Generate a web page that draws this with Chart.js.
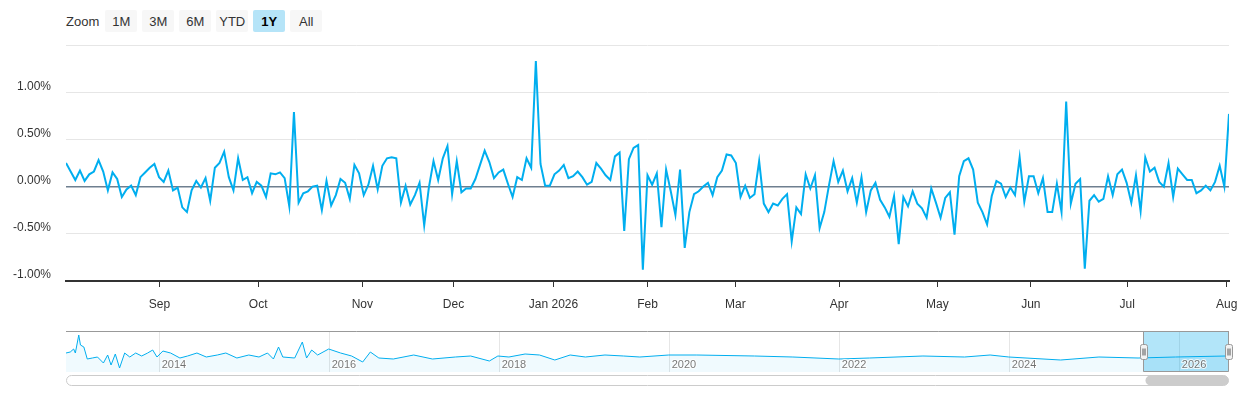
<!DOCTYPE html>
<html>
<head>
<meta charset="utf-8">
<title>Daily change</title>
<script src="https://cdn.jsdelivr.net/npm/chart.js@4.4.1/dist/chart.umd.min.js"></script>
<style>
  html, body { margin: 0; padding: 0; background: #fff; }
  body { width: 1240px; height: 400px; position: relative; overflow: hidden;
         font-family: "Liberation Sans", Arial, sans-serif; }
  .range { position: absolute; left: 66px; top: 10px; height: 22px; display: flex;
           align-items: center; font-size: 13px; color: #333; }
  .range .lbl { margin-right: 6px; }
  .range button { width: 32px; height: 22px; margin-right: 5px; border: 0; border-radius: 2px;
                  background: #f7f7f7; color: #333; padding: 0;
                  font: 13px "Liberation Sans", Arial, sans-serif; }
  .range button.on { background: #b5e4f8; color: #000; font-weight: bold; }
  #main { position: absolute; left: 0; top: 0; }
  #nav { position: absolute; left: 0; top: 320px; }
</style>
</head>
<body>
<div class="range" id="range"><span class="lbl">Zoom</span></div>
<canvas id="main" width="1240" height="320"></canvas>
<canvas id="nav" width="1240" height="80"></canvas>

<script>
// daily change, % (one value per trading day, Aug 2025 - Aug 2026)
const values = [
  0.25, 0.16, 0.07, 0.17, 0.06, 0.13, 0.16, 0.28, 0.16, -0.04,
  0.15, 0.08, -0.11, -0.03, 0.01, -0.09, 0.10, 0.15, 0.20, 0.24,
  0.10, 0.05, 0.17, -0.04, -0.01, -0.22, -0.27, -0.04, 0.06, -0.01,
  0.09, -0.15, 0.20, 0.25, 0.37, 0.10, -0.04, 0.30, 0.07, 0.10,
  -0.07, 0.05, 0.01, -0.11, 0.14, 0.13, 0.15, 0.09, -0.21, 0.79,
  -0.17, -0.07, -0.05, 0.00, 0.01, -0.25, 0.06, -0.20, -0.09, 0.08,
  0.04, -0.13, 0.23, 0.14, -0.09, 0.02, 0.22, -0.03, 0.22, 0.30,
  0.31, 0.30, -0.17, 0.01, -0.19, -0.09, 0.04, -0.41, -0.01, 0.27,
  0.07, 0.30, 0.43, -0.08, 0.27, -0.06, -0.02, -0.02, 0.08, 0.23,
  0.38, 0.26, 0.09, 0.15, 0.18, 0.03, -0.11, 0.10, 0.07, 0.30,
  0.20, 1.33, 0.24, 0.01, 0.01, 0.13, 0.17, 0.23, 0.09, 0.11,
  0.16, 0.10, 0.02, 0.05, 0.25, 0.19, 0.12, 0.07, 0.32, 0.36,
  -0.47, 0.29, 0.41, 0.44, -0.88, 0.12, 0.02, 0.14, -0.43, 0.18,
  -0.05, -0.30, 0.18, -0.65, -0.27, -0.08, -0.05, 0.00, 0.04, -0.09,
  0.10, 0.17, 0.34, 0.33, 0.25, -0.11, 0.01, -0.12, -0.08, 0.27,
  -0.18, -0.27, -0.18, -0.20, -0.13, -0.08, -0.58, -0.22, -0.29, 0.13,
  -0.02, 0.12, -0.44, -0.27, 0.01, 0.27, 0.05, 0.17, -0.05, 0.09,
  -0.17, 0.10, -0.27, -0.04, 0.04, -0.14, -0.22, -0.32, -0.10, -0.61,
  -0.11, -0.21, -0.05, -0.18, -0.23, -0.33, -0.02, -0.17, -0.33, -0.12,
  -0.06, -0.51, 0.11, 0.27, 0.30, 0.18, -0.17, -0.27, -0.40, -0.10,
  0.06, 0.03, -0.11, -0.01, -0.09, 0.31, -0.16, 0.11, 0.11, -0.07,
  0.09, -0.27, -0.27, 0.03, -0.27, 0.90, -0.18, 0.03, 0.08, -0.87,
  -0.15, -0.09, -0.16, -0.13, 0.11, -0.09, 0.13, 0.18, 0.04, -0.17,
  0.12, -0.26, 0.31, 0.16, 0.20, 0.05, 0.00, 0.25, -0.11, 0.19,
  0.13, 0.07, 0.07, -0.07, -0.04, 0.01, -0.04, 0.05, 0.22, 0.00,
  0.77
];

// month boundaries, in point index (ordinal axis)
const monthTicks = [20.1, 41.3, 63.7, 83.3, 104.8, 125.0, 143.9, 166.2, 187.3, 207.4, 228.1, 249.5];
const monthLabels = ['Sep', 'Oct', 'Nov', 'Dec', 'Jan 2026', 'Feb', 'Mar', 'Apr', 'May', 'Jun', 'Jul', 'Aug'];
const yTicks = [-1, -0.5, 0, 0.5, 1, 1.5];

// navigator: whole history, rough
const navYears = [
  2012.91, 2012.96, 2013.00, 2013.02, 2013.06, 2013.08, 2013.12, 2013.16, 2013.22, 2013.28,
  2013.35, 2013.40, 2013.44, 2013.49, 2013.54, 2013.60, 2013.66, 2013.73, 2013.80, 2013.87,
  2013.93, 2013.98, 2014.05, 2014.14, 2014.25, 2014.34, 2014.45, 2014.56, 2014.69, 2014.79,
  2014.92, 2015.06, 2015.18, 2015.28, 2015.35, 2015.41, 2015.46, 2015.60, 2015.69, 2015.74,
  2015.80, 2015.87, 2016.00, 2016.14, 2016.27, 2016.40, 2016.49, 2016.59, 2016.76, 2017.00,
  2017.22, 2017.49, 2017.67, 2017.89, 2017.99, 2018.12, 2018.31, 2018.48, 2018.66, 2018.84,
  2019.02, 2019.25, 2019.47, 2019.66, 2020.00, 2020.33, 2021.01, 2021.46, 2022.00, 2022.36,
  2022.99, 2023.48, 2023.78, 2024.00, 2024.61, 2025.06, 2025.52, 2025.96, 2026.55, 2026.59
];
const navValues = [
  0.4, 0.5, 0.8, 0.4, 2.2, 1.2, 1.0, -0.2, -0.1, 0,
  -0.6, 0.2, -0.8, 0.3, -1.1, 0.4, 0, 0.4, 0.1, 0.4,
  0.7, 0, 0.6, 0.4, -0.1, 0.1, 0.4, 0, 0.2, 0.4,
  -0.1, 0.2, 0, 0.4, -0.2, 1.0, 0, -0.1, 1.5, -0.1,
  0.7, 0.2, 0.8, 0.4, 0.1, -0.5, 0.5, -0.1, -0.2, 0.2,
  -0.2, 0, 0.1, -0.4, 0.1, 0, 0.3, 0.2, -0.3, 0.2,
  0, 0.2, 0.1, 0, 0.2, 0.2, 0.1, 0, -0.2, -0.1,
  0.1, 0, 0.2, 0, -0.3, 0, -0.1, 0, 0.1, 0
];
const navYearTicks = [2014, 2016, 2018, 2020, 2022, 2024, 2026];
const navWindow = [2025.58, 2026.59];

const rangeButtons = ['1M', '3M', '6M', 'YTD', '1Y', 'All'];
const activeButton = '1Y';

const lineColor = '#00aeef';
Chart.defaults.font.family = '"Liberation Sans", Arial, sans-serif';

// range selector buttons
const range = document.getElementById('range');
rangeButtons.forEach(b => {
  const el = document.createElement('button');
  el.textContent = b;
  if (b === activeButton) el.className = 'on';
  range.appendChild(el);
});

new Chart(document.getElementById('main'), {
  type: 'line',
  data: {
    datasets: [{
      data: values.map((v, i) => ({ x: i, y: v })),
      borderColor: lineColor,
      borderWidth: 2,
      pointRadius: 0,
      tension: 0,
      fill: false
    }]
  },
  options: {
    responsive: false,
    animation: false,
    layout: { padding: { left: 0, right: 11, top: 45, bottom: 0 }, autoPadding: false },
    plugins: { legend: { display: false }, tooltip: { enabled: false } },
    scales: {
      x: {
        type: 'linear',
        min: 0,
        max: values.length - 1,
        afterBuildTicks: s => { s.ticks = monthTicks.map(v => ({ value: v })); },
        afterFit: s => { s.height = 39; s.paddingLeft = 0; s.paddingRight = 0; },
        ticks: {
          autoSkip: false, maxRotation: 0, padding: 10,
          color: '#333', font: { size: 12 },
          callback: (v, i) => monthLabels[i]
        },
        grid: { drawOnChartArea: false, tickLength: 6, color: '#333', lineWidth: 1 },
        border: { color: '#333', width: 2 }
      },
      y: {
        min: -1,
        max: 1.5,
        afterBuildTicks: s => { s.ticks = yTicks.map(v => ({ value: v })); },
        afterFit: s => { s.width = 66; s.paddingTop = 0; s.paddingBottom = 0; },
        ticks: {
          padding: 15, labelOffset: -6,
          color: '#333', font: { size: 12 },
          callback: v => v >= 1.5 ? '' : v.toFixed(2) + '%'
        },
        grid: {
          drawTicks: false,
          color: c => c.tick && c.tick.value === 0 ? '#6e7f8f' : '#e6e6e6',
          lineWidth: c => c.tick && c.tick.value === 0 ? 1.5 : 1
        },
        border: { display: false }
      }
    }
  }
});

// navigator extras: year grid, labels, mask, handles, scrollbar
const navDecor = {
  id: 'navDecor',
  beforeDatasetsDraw(chart) {
    const { ctx, chartArea: a, scales: { x } } = chart;
    ctx.save();
    ctx.strokeStyle = '#e6e6e6';
    ctx.lineWidth = 1;
    navYearTicks.forEach(yr => {
      const px = Math.round(x.getPixelForValue(yr)) + 0.5;
      ctx.beginPath();
      ctx.moveTo(px, a.top);
      ctx.lineTo(px, a.bottom);
      ctx.stroke();
    });
    ctx.restore();
  },
  afterDatasetsDraw(chart) {
    const { ctx, chartArea: a, scales: { x } } = chart;
    const x0 = Math.round(x.getPixelForValue(navWindow[0])) + 0.5;
    const x1 = Math.round(x.getPixelForValue(navWindow[1])) - 0.5;
    ctx.save();
    // mask
    ctx.fillStyle = 'rgba(0,170,235,0.3)';
    ctx.fillRect(x0, a.top, x1 - x0, a.bottom - a.top);
    // outline
    ctx.strokeStyle = '#999';
    ctx.lineWidth = 1;
    ctx.beginPath();
    ctx.moveTo(a.left, a.top + 0.5);
    ctx.lineTo(a.right, a.top + 0.5);
    ctx.moveTo(x0, a.top);
    ctx.lineTo(x0, a.bottom - 0.5);
    ctx.lineTo(x1, a.bottom - 0.5);
    ctx.lineTo(x1, a.top);
    ctx.stroke();
    // year labels
    ctx.font = '11px "Liberation Sans", Arial, sans-serif';
    ctx.textAlign = 'left';
    ctx.textBaseline = 'alphabetic';
    navYearTicks.forEach(yr => {
      const px = x.getPixelForValue(yr) + 3;
      ctx.strokeStyle = 'rgba(255,255,255,0.8)';
      ctx.lineWidth = 2;
      ctx.strokeText(String(yr), px, a.bottom - 4);
      ctx.fillStyle = 'rgba(0,0,0,0.55)';
      ctx.fillText(String(yr), px, a.bottom - 4);
    });
    // handles
    const hy = Math.round((a.top + a.bottom) / 2 - 7.5) + 0.5;
    [x0, x1].forEach(hx => {
      const l = Math.round(hx - 3.5) + 0.5;
      ctx.fillStyle = '#f2f2f2';
      ctx.strokeStyle = '#999';
      ctx.lineWidth = 1;
      ctx.beginPath();
      ctx.roundRect(l, hy, 7, 15, 2);
      ctx.fill();
      ctx.stroke();
      ctx.strokeStyle = '#555';
      ctx.beginPath();
      ctx.moveTo(l + 2.5, hy + 4); ctx.lineTo(l + 2.5, hy + 11);
      ctx.moveTo(l + 4.5, hy + 4); ctx.lineTo(l + 4.5, hy + 11);
      ctx.stroke();
    });
    // scrollbar
    const sy = a.bottom + 3.5, sh = 10;
    ctx.strokeStyle = '#ccc';
    ctx.fillStyle = '#fff';
    ctx.beginPath();
    ctx.roundRect(a.left + 0.5, sy, a.right - a.left - 1, sh, 5);
    ctx.fill();
    ctx.stroke();
    ctx.fillStyle = '#ccc';
    ctx.beginPath();
    ctx.roundRect(x0 + 2, sy, x1 - x0 - 2, sh, 5);
    ctx.fill();
    ctx.restore();
  }
};

new Chart(document.getElementById('nav'), {
  type: 'line',
  data: {
    datasets: [{
      data: navYears.map((yr, i) => ({ x: yr, y: navValues[i] })),
      borderColor: lineColor,
      backgroundColor: 'rgba(0,174,239,0.06)',
      borderWidth: 1,
      pointRadius: 0,
      tension: 0,
      fill: 'start'
    }]
  },
  options: {
    responsive: false,
    animation: false,
    layout: { padding: { left: 66, right: 11, top: 11, bottom: 28 }, autoPadding: false },
    plugins: { legend: { display: false }, tooltip: { enabled: false } },
    scales: {
      x: { type: 'linear', display: false, min: navYears[0], max: navYears[navYears.length - 1] },
      y: { display: false, min: -1.5, max: 2.6 }
    }
  },
  plugins: [navDecor]
});
</script>
</body>
</html>
